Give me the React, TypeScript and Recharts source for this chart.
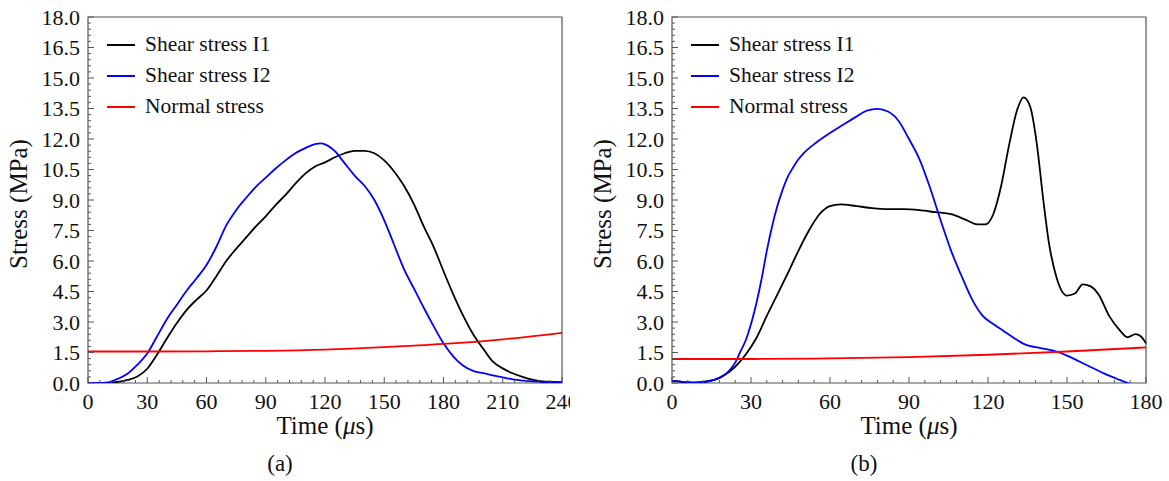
import React from 'react';
import { LineChart, Line, XAxis, YAxis, ReferenceArea, Legend } from 'recharts';

const FONT = '"Liberation Serif", "Times New Roman", serif';
const AXIS = '#555';

const seriesNames = ['Shear stress I1', 'Shear stress I2', 'Normal stress'];
const seriesColors = ['#000000', '#0000ff', '#ff0000'];

const yMajorTicks = [0, 1.5, 3, 4.5, 6, 7.5, 9, 10.5, 12, 13.5, 15, 16.5, 18];
const xMajorTicksA = [0, 30, 60, 90, 120, 150, 180, 210, 240];
const xMajorTicksB = [0, 30, 60, 90, 120, 150, 180];

// panel (a)
const timeA_I1 = [0, 5, 10, 15, 20, 25, 30, 35, 40, 45, 50, 55, 60, 65, 70, 75, 80, 85, 90, 95, 100, 105, 110, 115, 120, 125, 130, 135, 140, 145, 150, 155, 160, 165, 170, 175, 180, 185, 190, 195, 200, 205, 210, 215, 220, 225, 230, 235, 240];
const stressA_I1 = [0, 0, 0.01, 0.05, 0.15, 0.32, 0.7, 1.4, 2.2, 2.95, 3.6, 4.1, 4.55, 5.25, 6.0, 6.6, 7.15, 7.7, 8.2, 8.75, 9.25, 9.8, 10.3, 10.65, 10.85, 11.1, 11.3, 11.42, 11.42, 11.3, 10.95, 10.4, 9.7, 8.8, 7.7, 6.7, 5.5, 4.35, 3.3, 2.4, 1.7, 1.05, 0.72, 0.48, 0.3, 0.16, 0.08, 0.05, 0.04];

const timeA_I2 = [0, 5, 10, 15, 20, 25, 30, 35, 40, 45, 50, 55, 60, 65, 70, 75, 80, 85, 90, 95, 100, 105, 110, 115, 118, 120, 125, 130, 135, 140, 145, 150, 155, 160, 165, 170, 175, 180, 185, 190, 195, 200, 205, 210, 215, 220, 225, 230, 240];
const stressA_I2 = [0, 0, 0.03, 0.2, 0.45, 0.9, 1.45, 2.3, 3.15, 3.85, 4.55, 5.15, 5.8, 6.7, 7.75, 8.5, 9.1, 9.65, 10.1, 10.55, 10.95, 11.3, 11.55, 11.75, 11.78, 11.74, 11.4, 10.8, 10.2, 9.7, 9.0, 8.0, 6.8, 5.6, 4.65, 3.7, 2.8, 1.95, 1.3, 0.85, 0.6, 0.48, 0.38, 0.28, 0.18, 0.12, 0.08, 0.05, 0.02];

const timeA_N = [0, 30, 60, 90, 120, 150, 180, 210, 240];
const stressA_N = [1.55, 1.55, 1.56, 1.58, 1.64, 1.76, 1.92, 2.15, 2.47];

// panel (b)
const timeB_I1 = [0, 4, 8, 12, 16, 20, 24, 28, 32, 36, 40, 44, 48, 52, 56, 60, 64, 70, 76, 82, 88, 94, 100, 106, 112, 116, 119, 122, 125, 128, 131, 133.5, 136, 138.5, 141, 143, 146, 150, 153, 156, 159, 162, 166, 170, 173, 176, 178, 180];
const stressB_I1 = [0.1, 0.05, 0.02, 0.05, 0.15, 0.4, 0.8, 1.4, 2.2, 3.3, 4.35, 5.4, 6.5, 7.5, 8.3, 8.7, 8.78, 8.7, 8.6, 8.55, 8.55, 8.5, 8.4, 8.3, 8.0, 7.8, 7.8, 8.3, 9.7, 11.7, 13.4, 14.05, 13.6, 11.8, 9.0, 7.0, 5.2, 4.3, 4.4, 4.85, 4.75, 4.35, 3.3, 2.6, 2.25, 2.4, 2.3, 1.95];

const timeB_I2 = [0, 4, 8, 12, 16, 18, 20, 22, 24, 26, 28, 30, 32, 34, 36, 38, 40, 42, 44, 46, 48, 50, 55, 60, 65, 70, 74, 78, 82, 86, 90, 94, 98, 102, 106, 110, 114, 118, 122, 126, 130, 134, 140, 146, 150, 154, 158, 164, 170, 174];
const stressB_I2 = [0.1, 0.05, 0.02, 0.05, 0.15, 0.25, 0.4, 0.65, 1.0, 1.55, 2.1, 2.9, 3.9, 5.1, 6.5, 7.7, 8.7, 9.5, 10.15, 10.6, 11.0, 11.3, 11.85, 12.3, 12.7, 13.1, 13.4, 13.48, 13.35, 12.9, 12.0, 11.0, 9.6, 8.0, 6.5, 5.25, 4.1, 3.3, 2.9, 2.55, 2.2, 1.9, 1.72, 1.55, 1.35, 1.1, 0.85, 0.47, 0.15, -0.05];

const timeB_N = [0, 30, 60, 90, 120, 150, 180];
const stressB_N = [1.18, 1.18, 1.21, 1.27, 1.39, 1.55, 1.75];

const toPoints = (times: number[], values: number[]) => times.map((t, i) => ({ t, v: values[i] }));

// minor ticks between majors
const subdivide = (majors: number[], parts: number) => {
  const out: number[] = [];
  for (let i = 0; i < majors.length - 1; i++) {
    const step = (majors[i + 1] - majors[i]) / parts;
    for (let k = 0; k < parts; k++) out.push(Math.round((majors[i] + k * step) * 1000) / 1000);
  }
  out.push(majors[majors.length - 1]);
  return out;
};

const isMajor = (v: number, majors: number[]) => majors.some((m) => Math.abs(m - v) < 1e-6);

const YTick = (props: any) => {
  const { x, y, payload } = props;
  const major = isMajor(payload.value, yMajorTicks);
  return (
    <g>
      <line x1={x} x2={x + (major ? 6 : 3)} y1={y} y2={y} stroke={AXIS} strokeWidth={1} />
      {major && (
        <text x={x - 8} y={y} dy="0.35em" textAnchor="end" fontSize={22} fontFamily={FONT} fill="#111">
          {payload.value.toFixed(1)}
        </text>
      )}
    </g>
  );
};

const makeXTick = (majors: number[]) => (props: any) => {
  const { x, y, payload } = props;
  const major = isMajor(payload.value, majors);
  return (
    <g>
      <line x1={x} x2={x} y1={y} y2={y - (major ? 6 : 3)} stroke={AXIS} strokeWidth={1} />
      {major && (
        <text x={x} y={y + 26} textAnchor="middle" fontSize={22} fontFamily={FONT} fill="#111">
          {payload.value}
        </text>
      )}
    </g>
  );
};

const renderLegend = () => (
  <div style={{ fontFamily: FONT, fontSize: 21.5, color: '#111', lineHeight: '31px' }}>
    {seriesNames.map((name, i) => (
      <div key={name} style={{ display: 'flex', alignItems: 'center', height: 31, whiteSpace: 'nowrap' }}>
        <span style={{ display: 'inline-block', width: 28, borderTop: `2px solid ${seriesColors[i]}`, marginRight: 10 }} />
        <span>{name}</span>
      </div>
    ))}
  </div>
);

type Series = { times: number[]; values: number[] };

const StressPanel = ({ xMax, xMajors, series, caption }: { xMax: number; xMajors: number[]; series: Series[]; caption: string }) => {
  const XTick = makeXTick(xMajors);
  return (
    <LineChart width={580} height={481} margin={{ top: 17, right: 18, left: 0, bottom: 0 }}>
      <XAxis
        dataKey="t"
        type="number"
        domain={[0, xMax]}
        ticks={subdivide(xMajors, 5)}
        interval={0}
        tickSize={0}
        tickMargin={0}
        tickLine={false}
        axisLine={false}
        height={98}
        tick={<XTick />}
        label={({ viewBox }: any) => (
          <g>
            <text x={viewBox.x + viewBox.width / 2} y={viewBox.y + 51} textAnchor="middle" fontSize={25} fontFamily={FONT} fill="#111">
              Time (<tspan fontStyle="italic">μ</tspan>s)
            </text>
            <text x={viewBox.x + viewBox.width / 2 - 45} y={viewBox.y + 88} textAnchor="middle" fontSize={23} fontFamily={FONT} fill="#111">
              {caption}
            </text>
          </g>
        )}
      />
      <YAxis
        type="number"
        domain={[0, 18]}
        allowDataOverflow
        ticks={subdivide(yMajorTicks, 5)}
        interval={0}
        tickSize={0}
        tickMargin={0}
        tickLine={false}
        axisLine={false}
        width={88}
        tick={<YTick />}
        label={({ viewBox }: any) => {
          const cy = viewBox.y + viewBox.height / 2 + 4;
          return (
            <text x={27} y={cy} transform={`rotate(-90, 27, ${cy})`} textAnchor="middle" fontSize={25} fontFamily={FONT} fill="#111">
              Stress (MPa)
            </text>
          );
        }}
      />
      <ReferenceArea x1={0} x2={xMax} y1={0} y2={18} fill="none" stroke={AXIS} strokeWidth={1.2} />
      {series.map((s, i) => (
        <Line
          key={seriesNames[i]}
          name={seriesNames[i]}
          data={toPoints(s.times, s.values)}
          dataKey="v"
          type="monotone"
          stroke={seriesColors[i]}
          strokeWidth={1.8}
          dot={false}
          activeDot={false}
          isAnimationActive={false}
        />
      ))}
      <Legend
        layout="vertical"
        align="center"
        verticalAlign="middle"
        content={renderLegend}
        wrapperStyle={{ left: 107, top: 29, width: 'auto', height: 'auto' }}
      />
    </LineChart>
  );
};

export default function App() {
  return (
    <div style={{ position: 'absolute', left: 0, top: 0, width: 1169, height: 481, background: '#fff', overflow: 'hidden' }}>
      <div style={{ position: 'absolute', left: 0, top: 0, width: 570, height: 481, overflow: 'hidden' }}>
        <StressPanel
          xMax={240}
          xMajors={xMajorTicksA}
          caption="(a)"
          series={[
            { times: timeA_I1, values: stressA_I1 },
            { times: timeA_I2, values: stressA_I2 },
            { times: timeA_N, values: stressA_N },
          ]}
        />
      </div>
      <div style={{ position: 'absolute', left: 584, top: 0, width: 585, height: 481 }}>
        <StressPanel
          xMax={180}
          xMajors={xMajorTicksB}
          caption="(b)"
          series={[
            { times: timeB_I1, values: stressB_I1 },
            { times: timeB_I2, values: stressB_I2 },
            { times: timeB_N, values: stressB_N },
          ]}
        />
      </div>
    </div>
  );
}
